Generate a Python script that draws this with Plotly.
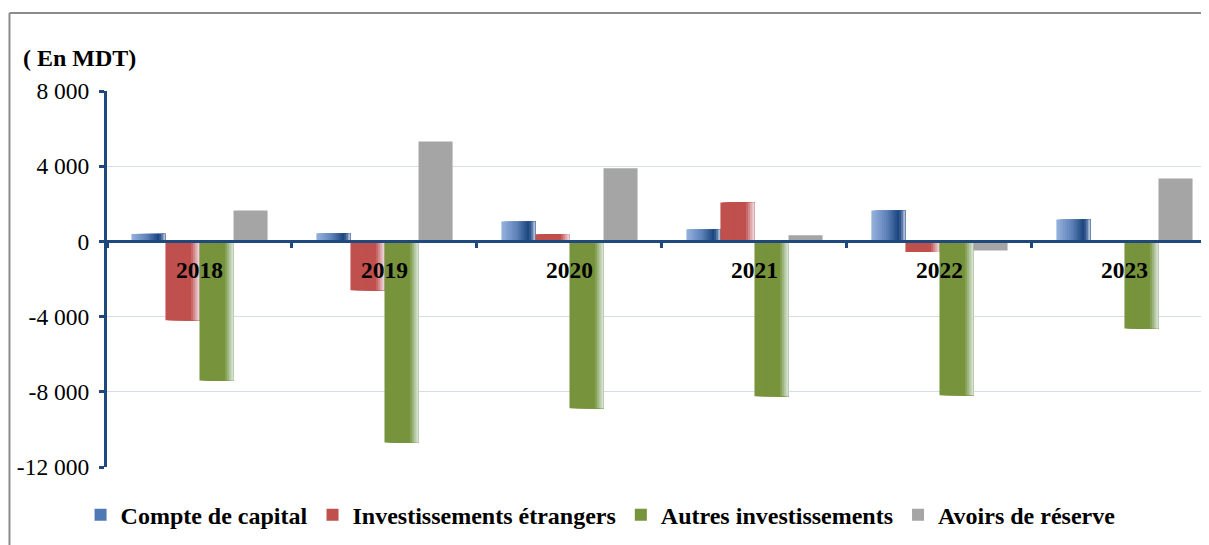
import plotly.graph_objects as go

years = ["2018", "2019", "2020", "2021", "2022", "2023"]
compte_capital = [400, 430, 1060, 640, 1650, 1170]
invest_etrangers = [-4200, -2600, 380, 2070, -560, 0]
autres_invest = [-7400, -10700, -8880, -8240, -8190, -4630]
avoirs_reserve = [1650, 5320, 3890, 330, -480, 3350]

series_names = ["Compte de capital", "Investissements étrangers",
                "Autres investissements", "Avoirs de réserve"]
series_values = [compte_capital, invest_etrangers, autres_invest, avoirs_reserve]

ytick_vals = [-12000, -8000, -4000, 0, 4000, 8000]
ytick_text = ["-12 000", "-8 000", "-4 000", "0", "4 000", "8 000"]

# gradient stops per series (position across bar width, colour)
gradients = [
    [(0.0, (150, 178, 222)), (0.45, (95, 130, 185)), (0.78, (30, 72, 128)),
     (0.88, (60, 95, 150)), (1.0, (215, 225, 238))],
    [(0.0, (192, 80, 77)), (0.74, (192, 80, 77)), (1.0, (240, 226, 232))],
    [(0.0, (119, 147, 60)), (0.74, (119, 147, 60)), (1.0, (222, 234, 230))],
    [(0.0, (165, 165, 165)), (1.0, (165, 165, 165))],
]
legend_colors = ["#4F79B5", "#C0504D", "#77933C", "#A5A5A5"]


def interp(stops, t):
    for (t0, c0), (t1, c1) in zip(stops[:-1], stops[1:]):
        if t0 <= t <= t1:
            f = 0 if t1 == t0 else (t - t0) / (t1 - t0)
            return "rgb(%d,%d,%d)" % tuple(round(a + (b - a) * f) for a, b in zip(c0, c1))
    c = stops[-1][1]
    return "rgb(%d,%d,%d)" % c


bar_w = 0.184
n_slices = 16
fig = go.Figure()
font_fam = "Times New Roman"

for k, (name, vals) in enumerate(zip(series_names, series_values)):
    start = -2 * bar_w + k * bar_w
    nsl = n_slices if k < 3 else 1
    sw = bar_w / nsl
    for i in range(nsl):
        t = (i + 0.5) / nsl
        fig.add_trace(go.Bar(
            x=years, y=vals,
            offset=start + i * sw, width=bar_w - i * sw,
            marker=dict(color=interp(gradients[k], t), line=dict(width=0)),
            name=name, legendgroup=name, showlegend=False, hoverinfo="skip",
        ))
    # legend entry
    fig.add_trace(go.Bar(
        x=[None], y=[None], name=name, legendgroup=name, showlegend=True,
        marker=dict(color=legend_colors[k], line=dict(width=0)),
    ))

axis_blue = "#1F497D"
fig.update_layout(
    width=1209, height=545,
    margin=dict(l=99, r=8, t=83, b=86, autoexpand=False),
    paper_bgcolor="white", plot_bgcolor="white",
    barmode="overlay",
    showlegend=True,
    legend=dict(orientation="h", x=-0.024, y=-0.068, xanchor="left", yanchor="top",
                font=dict(family=font_fam, size=24, color="black", weight="bold"),
                itemwidth=30, traceorder="normal", bgcolor="rgba(0,0,0,0)"),
    font=dict(family=font_fam, color="black"),
    xaxis=dict(
        type="category", range=[-0.5, 5.457], anchor="free", position=0.6,
        showline=True, linecolor=axis_blue, linewidth=3,
        ticks="outside", tickson="boundaries", ticklen=5, tickwidth=3, tickcolor=axis_blue,
        showgrid=False, zeroline=False,
        tickfont=dict(family=font_fam, size=23.5, color="black", weight="bold"),
        ticklabelstandoff=6, layer="above traces",
    ),
    yaxis=dict(
        range=[-12000, 8000], tickvals=ytick_vals, ticktext=ytick_text,
        showline=True, linecolor=axis_blue, linewidth=3,
        ticks="outside", ticklen=5, tickwidth=3, tickcolor=axis_blue,
        showgrid=True, gridcolor="#D5DEE8", gridwidth=1, zeroline=False,
        tickfont=dict(family=font_fam, size=23.5, color="black"),
        ticklabelstandoff=5,
    ),
    annotations=[dict(
        text="<b>( En MDT)</b>", xref="paper", yref="paper",
        x=-0.078, y=1.087, xanchor="left", yanchor="middle", showarrow=False,
        font=dict(family=font_fam, size=24, color="black"),
    )],
    shapes=[
        dict(type="line", xref="paper", yref="paper", x0=-0.0885, x1=-0.0885,
             y0=-0.3, y1=1.2074, line=dict(color="#8C8C8C", width=2)),
        dict(type="line", xref="paper", yref="paper", x0=-0.0885, x1=1.05,
             y0=1.2074, y1=1.2074, line=dict(color="#8C8C8C", width=2)),
    ],
)

fig.write_html("out.html")
